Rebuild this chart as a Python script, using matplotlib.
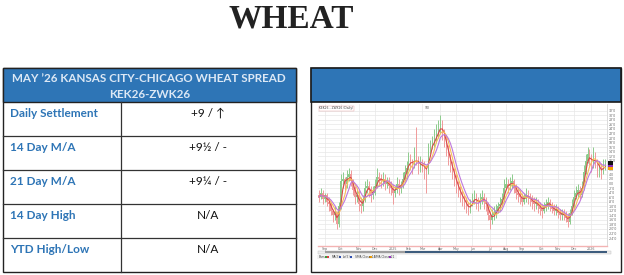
import matplotlib
matplotlib.use('Agg')
import matplotlib.pyplot as plt
import pandas as pd
from matplotlib.patches import Rectangle

# ---------------- data ----------------
title = "WHEAT"
table_header = ["MAY \u201926 KANSAS CITY-CHICAGO WHEAT SPREAD", "KEK26-ZWK26"]
row_labels = ["Daily Settlement", "14 Day M/A", "21 Day M/A", "14 Day High", "YTD High/Low"]
row_values = ["+9 / \u2191", "+9\u00bd / -", "+9\u00bc / -", "N/A", "N/A"]

closes = [-6, -4, -7, -5, -8, -9, -12, -14, -13, -18,
          -10, 1, 2, 0, 3, 4, 1, -3, -6, -5,
          -9, -10, -7, -2, -1, -3, -5, -4, -1, 3,
          2, 1, 2, 0, 1, -1, -2, -4, -3, 0,
          -2, -1, 2, 5, 7, 11, 9, 8, 12, 10,
          7, 9, 8, 6, 5, 15, 16, 18, 20, 22,
          24, 26, 22, 19, 15, 11, 8, 5, 2, -1,
          -3, -5, -7, -8, -10, -12, -9, -7, -6, -8,
          -9, -7, -6, -8, -9, -14, -16, -14, -13, -12,
          -10, -9, -7, -2, 0, -1, 0, 1, -2, -4,
          -5, -6, -8, -6, -5, -6, -7, -8, -9, -8,
          -10, -11, -12, -10, -9, -8, -10, -11, -12, -11,
          -13, -14, -13, -14, -15, -17, -13, -10, -6, -4,
          -3, -5, -2, 5, 10, 13, 11, 8, 12, 10,
          6, 7, 5, 8, 9]
highs = [-3, -2, -3, -4, -4, -6, -8, -11, -10, -12,
         -8, 4, 5, 3, 6, 7, 6, 2, -1, -2,
         -3, -6, -5, 1, 2, 1, -1, -1, 2, 7,
         5, 4, 5, 4, 3, 3, 1, 0, -1, 3,
         2, 1, 5, 8, 10, 14, 13, 11, 16, 25,
         12, 12, 11, 10, 8, 18, 19, 21, 24, 26,
         28, 30, 28, 24, 21, 17, 13, 10, 7, 4,
         1, -1, -3, -5, -6, -8, -7, -4, -3, -4,
         -6, -4, -3, -4, -6, -8, -12, -11, -10, -9,
         -8, -6, -4, 2, 3, 2, 3, 4, 2, 0,
         -2, -3, -4, -4, -2, -3, -4, -5, -6, -6,
         -7, -8, -9, -8, -7, -6, -7, -8, -9, -9,
         -10, -11, -11, -11, -12, -13, -11, -7, -3, -1,
         0, -1, 1, 8, 13, 16, 15, 13, 16, 14,
         11, 10, 9, 11, 11]
lows = [-8, -7, -9, -8, -10, -12, -14, -17, -16, -20,
        -19, -11, -2, -3, -2, 1, -1, -5, -9, -8,
        -12, -13, -12, -8, -4, -6, -8, -7, -5, -2,
        -1, -2, -1, -3, -2, -4, -5, -9, -6, -4,
        -5, -4, -2, 1, 3, 6, 6, 4, 7, 8,
        4, 5, 5, 2, -4, 4, 13, 15, 16, 18,
        20, 22, 19, 16, 12, 8, 5, 2, -1, -4,
        -6, -8, -10, -11, -13, -14, -13, -10, -9, -11,
        -12, -11, -9, -11, -12, -16, -20, -18, -16, -15,
        -13, -12, -10, -8, -3, -4, -3, -2, -4, -7,
        -8, -9, -10, -9, -8, -9, -10, -11, -12, -11,
        -13, -14, -15, -13, -12, -11, -12, -13, -14, -14,
        -15, -16, -16, -16, -17, -19, -18, -14, -11, -7,
        -6, -7, -6, -3, 4, 9, 8, 5, 7, 7,
        3, 3, 2, 4, 6]
first_open = -5
month_labels = ["Sep", "Oct", "Nov", "Dec", "2025", "Feb", "Mar", "Apr", "May",
                "Jun", "Jul", "Aug", "Sep", "Oct", "Nov", "Dec", "2026"]
month_start_bar = [3, 11, 20, 28, 37, 45, 52, 61, 69, 77, 86, 94, 102, 112, 120, 128, 137]
ma_windows = [3, 5, 7]

# ---------------- figure ----------------
W, H = 624, 275
fig = plt.figure(figsize=(W / 100, H / 100), dpi=100)
bg = fig.add_axes([0, 0, 1, 1])
bg.set_xlim(0, W)
bg.set_ylim(H, 0)
bg.axis('off')

BLUE = '#2E75B6'
ui = ['Lato', 'DejaVu Sans']

bg.text(291, 19, title, ha='center', va='center', fontsize=24, fontweight='bold',
        family='Liberation Serif', color='#222222')

# ---- table ----
tx0, tx1, ty0, ty1 = 2.7, 296, 68.3, 272.3
hdr_b = 102.3
colx = 120.7
bg.add_patch(Rectangle((tx0, ty0), tx1 - tx0, ty1 - ty0, fc='white', ec='#222222', lw=1.0))
bg.add_patch(Rectangle((tx0, ty0), tx1 - tx0, hdr_b - ty0, fc=BLUE, ec='#222222', lw=1.0))
bg.text((tx0 + tx1) / 2, 78, table_header[0], ha='center', va='center', fontsize=8.4,
        fontweight='bold', family=ui, color='#DCE8F5')
bg.text((tx0 + tx1) / 2, 94, table_header[1], ha='center', va='center', fontsize=8.4,
        fontweight='bold', family=ui, color='#DCE8F5')
n = len(row_labels)
rh = (ty1 - hdr_b) / n
for k in range(n):
    top = hdr_b + k * rh
    if k > 0:
        bg.plot([tx0, tx1], [top, top], color='#333333', lw=0.9)
    bg.text(10, top + 11, row_labels[k], ha='left', va='center', fontsize=8.5,
            fontweight='bold', family=ui, color=BLUE)
    bg.text(208, top + 11, row_values[k], ha='center', va='center', fontsize=8.5,
            family=ui, color='#111111')
bg.plot([colx, colx], [hdr_b, ty1], color='#333333', lw=0.9)

# ---- right panel ----
px0, px1 = 311, 621
bg.add_patch(Rectangle((px0, ty0), px1 - px0, ty1 - ty0, fc='white', ec='#222222', lw=1.0))
bg.add_patch(Rectangle((px0, ty0), px1 - px0, hdr_b - ty0, fc=BLUE, ec='#1A1A1A', lw=1.2))

# scrollbar + legend row
bg.add_patch(Rectangle((318, 250.8), 293, 2.8, fc='#EDEDED', ec='#BBBBBB', lw=0.3))
bg.add_patch(Rectangle((325, 251.3), 80, 1.8, fc='#9E9E9E', ec='none'))
bg.add_patch(Rectangle((405, 251.3), 202, 1.8, fc='#3D5C7D', ec='none'))
bg.add_patch(Rectangle((317, 255), 80, 4, fc='#F3F3F3', ec='none'))
leg_items = [("Bars", ['#3C9A3C', '#D94040']), ("MA(3)", ['#3050B0']), ("Lo(5)", ['#3050B0']),
             ("SMA Close 14", ['#F5A000']), ("SMA Close 21", ['#9B30C8'])]
lx = 319
for name, cols in leg_items:
    bg.text(lx, 257, name, fontsize=2.2, va='center', ha='left', color='#444444')
    lx += len(name) * 1.15 + 1
    for c in cols:
        bg.add_patch(Rectangle((lx, 255.8), 2.2, 2.2, fc=c, ec='none'))
        lx += 2.6
    lx += 2

# ---- price chart ----
ax = fig.add_axes([318 / W, 1 - 246 / H, (607 - 318) / W, (246 - 104) / H])
nb = len(closes)
opens = [first_open] + closes[:-1]
xs = list(range(nb))
up_c, dn_c = '#8CCB8C', '#F09A9A'
cols = [up_c if c >= o else dn_c for o, c in zip(opens, closes)]
ax.vlines(xs, lows, highs, colors=cols, lw=0.7, zorder=3)
bottoms = [min(o, c) for o, c in zip(opens, closes)]
heights = [max(abs(c - o), 0.4) for o, c in zip(opens, closes)]
ax.bar(xs, heights, bottom=bottoms, width=0.6, color=cols, edgecolor='none', zorder=3)

s = pd.Series(closes, dtype=float)
ma_cols = ['#D84848', '#F8BE58', '#BE78DC']
for w, c in zip(ma_windows, ma_cols):
    ax.plot(xs, s.rolling(w, min_periods=1).mean(), color=c, lw=0.8, zorder=4)

ax.set_xlim(-0.5, 144.8)
ax.set_ylim(-27.5, 35)
yt = list(range(-24, 33, 2))
ax.set_yticks(yt)
ax.set_yticklabels([f"{v}'0" for v in yt])
ax.yaxis.tick_right()
ax.set_xticks(month_start_bar)
ax.set_xticklabels(month_labels)
ax.tick_params(axis='both', labelsize=2.3, length=0, pad=1, colors='#666666')
ax.grid(True, color='#E8E8E8', lw=0.5, zorder=0)
for sp in ['top', 'left']:
    ax.spines[sp].set_visible(False)
ax.spines['right'].set_color('#CCCCCC')
ax.spines['right'].set_linewidth(0.5)
ax.spines['bottom'].set_color('#F3B3B3')
ax.spines['bottom'].set_linewidth(1.0)

ax.text(0.005, 0.985, "KEK26 - ZWK26 (Daily)", transform=ax.transAxes, fontsize=2.2,
        va='top', ha='left', color='#444444',
        bbox=dict(fc='white', ec='#E8A0A0', lw=0.3, pad=0.4))
ax.text(0.37, 0.985, "9'0", transform=ax.transAxes, fontsize=2.2, va='top', ha='left',
        color='#444444')

# last value tags on the price axis
tag_vals = [s.rolling(ma_windows[1], min_periods=1).mean().iloc[-1],
            s.rolling(ma_windows[2], min_periods=1).mean().iloc[-1],
            closes[-1]]
for v, c in zip(tag_vals, ['#F5A000', '#8E2BB8', '#111111']):
    ax.text(1.004, v, "    ", transform=ax.get_yaxis_transform(), fontsize=2.2,
            va='center', ha='left', bbox=dict(fc=c, ec='none', pad=0.3))

fig.savefig('out.png', dpi=100)
